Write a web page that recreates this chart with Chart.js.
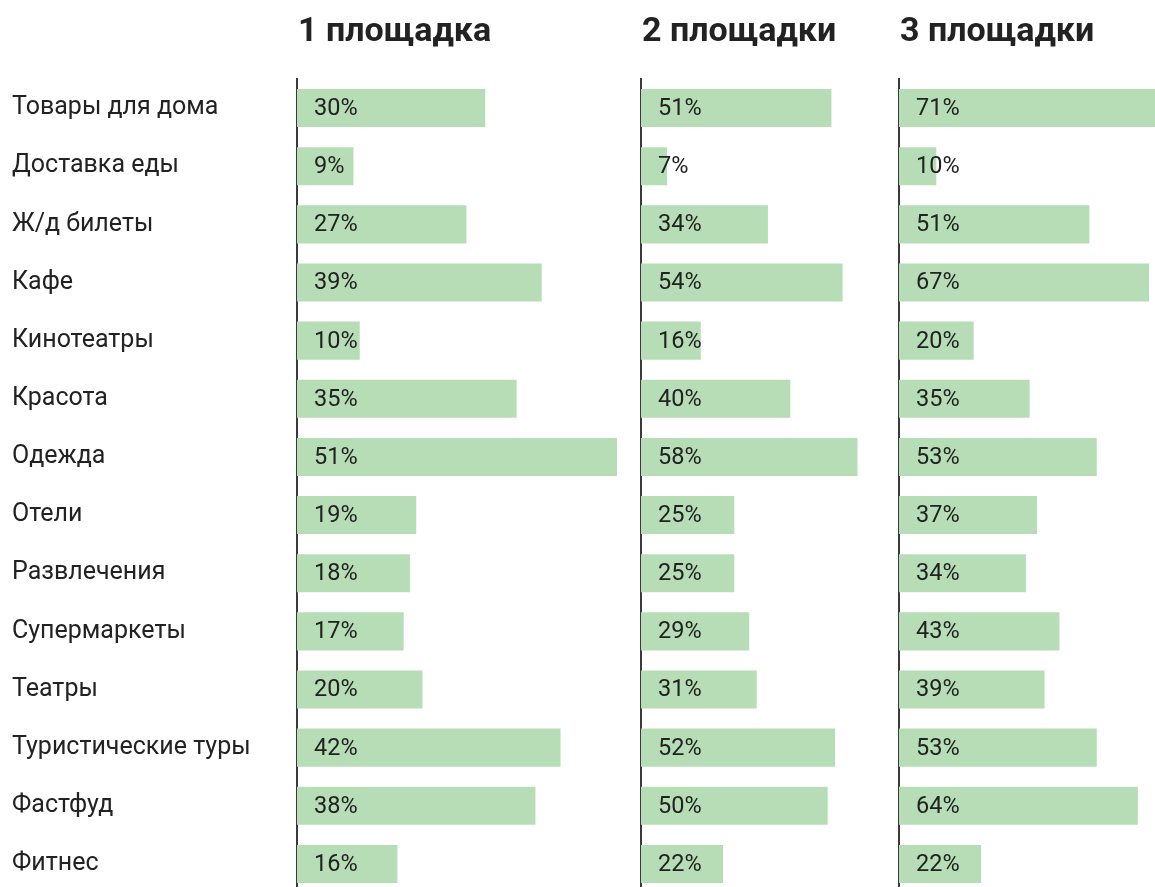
<!DOCTYPE html>
<html>
<head>
<meta charset="utf-8">
<script src="https://cdn.jsdelivr.net/npm/chart.js@4/dist/chart.umd.min.js"></script>
<style>
  html, body { margin: 0; padding: 0; background: #fff; overflow: hidden; }
  body { width: 1155px; height: 887px; position: relative; }
  .panel { position: absolute; top: 0; height: 893px; }
</style>
</head>
<body>
<div class="panel" style="left:0;width:617px"><canvas id="c1"></canvas></div>
<div class="panel" style="left:631px;width:234px"><canvas id="c2"></canvas></div>
<div class="panel" style="left:889px;width:266px"><canvas id="c3"></canvas></div>
<script>
const categories = [
  "Товары для дома", "Доставка еды", "Ж/д билеты", "Кафе", "Кинотеатры",
  "Красота", "Одежда", "Отели", "Развлечения", "Супермаркеты",
  "Театры", "Туристические туры", "Фастфуд", "Фитнес"
];
const titles = ["1 площадка", "2 площадки", "3 площадки"];
const site1 = [30, 9, 27, 39, 10, 35, 51, 19, 18, 17, 20, 42, 38, 16];
const site2 = [51, 7, 34, 54, 16, 40, 58, 25, 25, 29, 31, 52, 50, 22];
const site3 = [71, 10, 51, 67, 20, 35, 53, 37, 34, 43, 39, 53, 64, 22];

const BAR = "#b6ddb6";
const TEXT = "#222222";

// header + value labels inside the bars
const labelsPlugin = {
  id: "valueLabels",
  afterDatasetsDraw(chart, args, opts) {
    const ctx = chart.ctx;
    const area = chart.chartArea;
    ctx.save();
    ctx.fillStyle = TEXT;
    ctx.font = "700 34px Roboto";
    ctx.textAlign = "left";
    ctx.textBaseline = "alphabetic";
    ctx.fillText(opts.title, area.left + 1, 41);

    ctx.font = "23.5px Roboto";
    ctx.textBaseline = "middle";
    const meta = chart.getDatasetMeta(0);
    const data = chart.data.datasets[0].data;
    meta.data.forEach((bar, i) => {
      ctx.fillText(data[i] + "%", area.left + 17, bar.y + 1);
    });
    ctx.restore();
  },
};

function makeChart(id, values, title, max, showLabels, axisWidth, padLeft) {
  const ctx = document.getElementById(id).getContext("2d");
  return new Chart(ctx, {
    type: "bar",
    data: {
      labels: categories,
      datasets: [{
        data: values,
        backgroundColor: BAR,
        borderWidth: 0,
        barPercentage: 0.655,
        categoryPercentage: 1,
      }],
    },
    options: {
      indexAxis: "y",
      responsive: true,
      maintainAspectRatio: false,
      animation: false,
      layout: { padding: { top: 79, left: padLeft, right: 0, bottom: 0 } },
      plugins: {
        legend: { display: false },
        tooltip: { enabled: false },
        valueLabels: { title: title },
      },
      scales: {
        x: { display: false, min: 0, max: max },
        y: {
          grid: { display: false },
          border: { display: true, color: "#3a3a3a", width: 2 },
          ticks: {
            display: showLabels,
            crossAlign: "far",
            padding: 0,
            color: TEXT,
            font: { family: "Roboto", size: 25 },
          },
          afterFit(scale) {
            scale.width = axisWidth;
            scale.paddingTop = 0;
            scale.paddingBottom = 0;
          },
        },
      },
    },
    plugins: [labelsPlugin],
  });
}

makeChart("c1", site1, titles[0], 51, true, 285, 12);
makeChart("c2", site2, titles[1], 60, false, 10, 0);
makeChart("c3", site3, titles[2], 68.6, false, 10, 0);
</script>
</body>
</html>
